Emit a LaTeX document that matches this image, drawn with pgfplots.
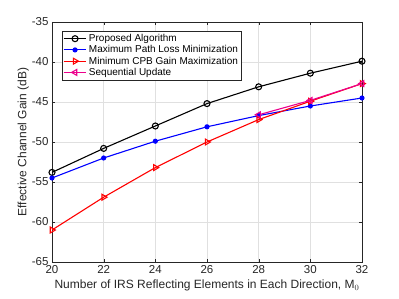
\documentclass[border=0pt]{standalone}
\usepackage{fontspec}
\setmainfont{Liberation Sans}
\usepackage{pgfplots}
\pgfplotsset{compat=1.18}
\definecolor{axgray}{gray}{0.15}
\definecolor{gridgray}{gray}{0.88}
\begin{document}
\begin{tikzpicture}
\begin{axis}[
  scale only axis,
  width=310pt, height=240pt,
  xmin=20, xmax=32, ymin=-65, ymax=-35,
  xtick={20,22,...,32}, ytick={-65,-60,...,-35},
  grid=major,
  major grid style={gridgray, line width=0.5pt},
  axis line style={axgray},
  tick style={axgray},
  tick align=inside,
  major tick length=3pt,
  tick label style={font=\fontsize{11.5}{13}\selectfont, text=axgray},
  xticklabel style={yshift=0pt},
  /pgf/number format/assume math mode=true,
  xlabel={Number of IRS Reflecting Elements in Each Direction, M$_0$},
  ylabel={Effective Channel Gain (dB)},
  label style={font=\fontsize{12}{14}\selectfont, text=axgray},
  xlabel style={yshift=1pt},
  ylabel style={yshift=-4pt},
  legend style={at={(0.032,0.962)}, anchor=north west, font=\fontsize{10}{12}\selectfont,
    draw=axgray, inner sep=1pt, row sep=-1.5pt, legend cell align=left},
  legend image code/.code={\draw[mark repeat=2,mark phase=2] plot coordinates {(0cm,0cm)(0.4cm,0cm)(0.8cm,0cm)};},
]
\addplot[black, line width=1.1pt, mark=o, mark size=3pt] coordinates {
(20,-53.8) (22,-50.8) (24,-48.0) (26,-45.2) (28,-43.1) (30,-41.4) (32,-39.9)};
\addlegendentry{Proposed Algorithm}
\addplot[blue, line width=1.1pt, mark=*, mark size=2pt] coordinates {
(20,-54.5) (22,-52.0) (24,-49.9) (26,-48.1) (28,-46.7) (30,-45.5) (32,-44.5)};
\addlegendentry{Maximum Path Loss Minimization}
\addplot[red, line width=1.1pt, mark=triangle, mark size=3.4pt, mark options={rotate=-90}] coordinates {
(20,-61.0) (22,-56.9) (24,-53.2) (26,-50.0) (28,-47.2) (30,-44.9) (32,-42.7)};
\addlegendentry{Minimum CPB Gain Maximization}
\addplot[magenta, line width=1.1pt, mark=triangle, mark size=3.4pt, mark options={rotate=90}] coordinates {
(28,-46.6) (30,-44.8) (32,-42.7)};
\addlegendentry{Sequential Update}
\end{axis}
\path ([xshift=-52pt,yshift=-37pt]current axis.south west) rectangle ([xshift=37pt,yshift=22pt]current axis.north east);
\end{tikzpicture}
\end{document}
